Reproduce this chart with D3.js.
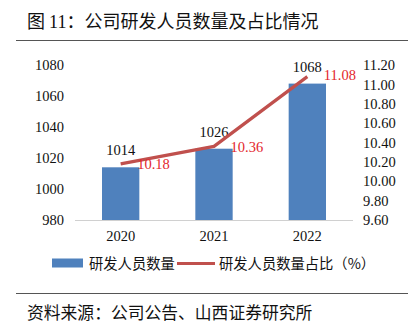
<!DOCTYPE html>
<html><head><meta charset="utf-8">
<script src="https://cdn.jsdelivr.net/npm/d3@7/dist/d3.min.js"></script>
<style>
html,body{margin:0;padding:0;background:#fff;}
svg{display:block;}
</style></head>
<body>
<svg id="c" width="412" height="326"></svg>
<script>
const years = ["2020", "2021", "2022"];
const staff = [1014, 1026, 1068];
const ratio = [10.18, 10.36, 11.08];
const leftTicks = [980, 1000, 1020, 1040, 1060, 1080];
const rightTicks = [9.6, 9.8, 10.0, 10.2, 10.4, 10.6, 10.8, 11.0, 11.2];
const title = "公司研发人员数量及占比情况";
const legendBar = "研发人员数量";
const legendLine = "研发人员数量占比（%）";
const source = "资料来源：公司公告、山西证券研究所";

(function () {
const svg = d3.select("#c");
const serif = "'Liberation Serif','Times New Roman',serif";
const cjk = "'Noto Sans CJK SC','Noto Sans',sans-serif";

const pTop = 65, pBottom = 220, pLeft = 74, pRight = 354;
const x = d3.scaleBand().domain(years).range([pLeft, pRight]).paddingInner(0.6).paddingOuter(0.3);
const yL = d3.scaleLinear().domain([980, 1080]).range([pBottom, pTop]);
const yR = d3.scaleLinear().domain([9.6, 11.2]).range([pBottom, pTop]);

// title
const t = svg.append("text").attr("x", 27).attr("y", 28).attr("font-size", 18).attr("fill", "#111").attr("font-family", cjk);
t.append("tspan").text("图 ");
t.append("tspan").attr("font-family", serif).text("11");
t.append("tspan").text("：" + title);
svg.append("line").attr("x1", 16).attr("x2", 408).attr("y1", 40.5).attr("y2", 40.5).attr("stroke", "#555").attr("stroke-width", 1.2);

// left axis
const gl = svg.append("g").attr("transform", `translate(${pLeft - 10},0)`)
  .call(d3.axisLeft(yL).tickValues(leftTicks).tickSize(0).tickPadding(0).tickFormat(d3.format("d")));
gl.select(".domain").remove();
gl.selectAll("text").attr("font-family", serif).attr("font-size", 14.5).attr("fill", "#111");

// right axis
const gr = svg.append("g").attr("transform", `translate(${pRight + 9},0)`)
  .call(d3.axisRight(yR).tickValues(rightTicks).tickSize(0).tickPadding(0).tickFormat(d3.format(".2f")));
gr.select(".domain").remove();
gr.selectAll("text").attr("font-family", serif).attr("font-size", 14.5).attr("fill", "#111");

// bars
svg.append("g").selectAll("rect").data(years).join("rect")
  .attr("x", d => x(d)).attr("width", x.bandwidth())
  .attr("y", (d, i) => yL(staff[i])).attr("height", (d, i) => pBottom - yL(staff[i]))
  .attr("fill", "#4f81bd");

// baseline
svg.append("line").attr("x1", pLeft + 1).attr("x2", pRight - 1).attr("y1", pBottom + 0.5).attr("y2", pBottom + 0.5)
  .attr("stroke", "#d0d0d0").attr("stroke-width", 1);

// x labels
const gx = svg.append("g").attr("transform", `translate(0,${pBottom})`)
  .call(d3.axisBottom(x).tickSize(0).tickPadding(11));
gx.select(".domain").remove();
gx.selectAll("text").attr("font-family", serif).attr("font-size", 14.5).attr("fill", "#111");

// bar labels
svg.append("g").selectAll("text").data(years).join("text")
  .attr("x", d => x(d) + x.bandwidth() / 2).attr("y", (d, i) => yL(staff[i]) - 12)
  .attr("text-anchor", "middle").attr("font-family", serif).attr("font-size", 14.5).attr("fill", "#111")
  .text((d, i) => staff[i]);

// line
const line = d3.line().x((d, i) => x(years[i]) + x.bandwidth() / 2).y(d => yR(d));
svg.append("path").datum(ratio).attr("d", line).attr("fill", "none")
  .attr("stroke", "#c0504d").attr("stroke-width", 3.2).attr("stroke-linejoin", "round");

svg.append("g").selectAll("text").data(ratio).join("text")
  .attr("x", (d, i) => x(years[i]) + x.bandwidth() / 2 + 16.5)
  .attr("y", (d, i) => yR(d) + (i === 2 ? 3 : 5.5))
  .attr("font-family", serif).attr("font-size", 14.5).attr("fill", "#e3262d")
  .text(d => d.toFixed(2));

// legend
svg.append("rect").attr("x", 52).attr("y", 258.5).attr("width", 31).attr("height", 9).attr("fill", "#4f81bd");
svg.append("text").attr("x", 89).attr("y", 268.5).attr("font-family", cjk).attr("font-size", 14.3).attr("fill", "#111").text(legendBar);
svg.append("line").attr("x1", 177).attr("x2", 215).attr("y1", 263.5).attr("y2", 263.5).attr("stroke", "#c0504d").attr("stroke-width", 3);
svg.append("text").attr("x", 219).attr("y", 268.5).attr("font-family", cjk).attr("font-size", 14.3).attr("fill", "#111").text(legendLine);

// footer
svg.append("line").attr("x1", 16).attr("x2", 408).attr("y1", 293.5).attr("y2", 293.5).attr("stroke", "#555").attr("stroke-width", 1.2);
svg.append("text").attr("x", 27).attr("y", 319).attr("font-family", cjk).attr("font-size", 16.8).attr("fill", "#111").text(source);
})();
</script>
</body></html>
